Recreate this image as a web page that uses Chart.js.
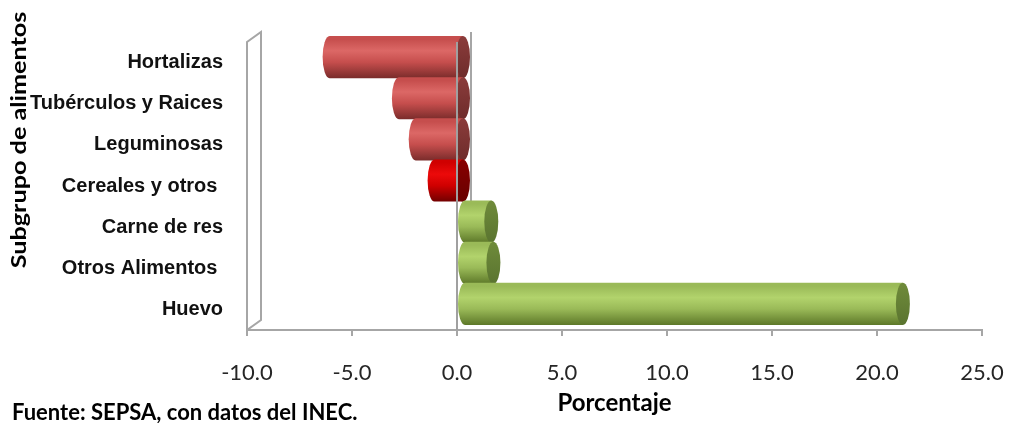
<!DOCTYPE html>
<html>
<head>
<meta charset="utf-8">
<style>
  html, body { margin: 0; padding: 0; background: #ffffff; }
  #wrap { width: 1009px; height: 423px; }
</style>
<script src="https://cdn.jsdelivr.net/npm/chart.js@4.4.1/dist/chart.umd.min.js"></script>
</head>
<body>
<div id="wrap"><canvas id="chart" width="1009" height="423"></canvas></div>
<script>
// Variación porcentual por subgrupo de alimentos
const categories = [
  'Hortalizas',
  'Tubérculos y Raices',
  'Leguminosas',
  'Cereales y otros ',
  'Carne de res',
  'Otros Alimentos ',
  'Huevo'
];
const variation = [-6.4, -3.1, -2.3, -1.4, 1.3, 1.4, 20.9];
const xTicks = [-10, -5, 0, 5, 10, 15, 20, 25];
const highlighted = ['Cereales y otros '];

const xAxisTitle = 'Porcentaje';
const yAxisTitle = 'Subgrupo de alimentos';
const sourceNote = 'Fuente: SEPSA, con datos del INEC.';

// 3D depth of the plot box (pixels)
const DX = 14, DY = 10;

const PALETTES = {
  down:   { light: '#dc6866', mid: '#c64e4d', dark: '#7a2c2b', face: '#8b3c3b', faceDark: '#6e2c2b' },
  accent: { light: '#ec0a0a', mid: '#d00000', dark: '#720000', face: '#880000', faceDark: '#680000' },
  up:     { light: '#b2d36c', mid: '#9aba58', dark: '#5d7829', face: '#6f8b3a', faceDark: '#5a7430' }
};

function paletteFor(i) {
  if (highlighted.includes(categories[i])) return PALETTES.accent;
  return variation[i] < 0 ? PALETTES.down : PALETTES.up;
}

function drawCylinder(ctx, xa, xb, yc, h, col) {
  const rx = DX / 2, ry = h / 2, top = yc - ry, bot = yc + ry;
  const g = ctx.createLinearGradient(0, top, 0, bot);
  g.addColorStop(0, col.mid);
  g.addColorStop(0.08, col.mid);
  g.addColorStop(0.35, col.light);
  g.addColorStop(0.62, col.mid);
  g.addColorStop(1, col.dark);
  ctx.beginPath();
  ctx.moveTo(xb, top);
  ctx.lineTo(xa, top);
  ctx.ellipse(xa, yc, rx, ry, 0, -Math.PI / 2, Math.PI / 2, true);
  ctx.lineTo(xb, bot);
  ctx.closePath();
  ctx.fillStyle = g;
  ctx.fill();

  const fg = ctx.createLinearGradient(0, top, 0, bot);
  fg.addColorStop(0, col.face);
  fg.addColorStop(1, col.faceDark);
  ctx.beginPath();
  ctx.ellipse(xb, yc, rx, ry, 0, 0, Math.PI * 2);
  ctx.fillStyle = fg;
  ctx.fill();
}

// Plot box walls, cylinder bars and the zero plane
const cylinderBars = {
  id: 'cylinderBars',
  beforeDatasetsDraw(chart) {
    const { ctx, chartArea: a, scales: { x } } = chart;
    const xMin = x.getPixelForValue(x.min);
    const x0 = x.getPixelForValue(0);
    ctx.save();
    ctx.strokeStyle = '#a6a6a6';
    ctx.lineWidth = 2;
    // left side wall
    ctx.beginPath();
    ctx.moveTo(xMin, a.bottom);
    ctx.lineTo(xMin, a.top);
    ctx.lineTo(xMin + DX, a.top - DY);
    ctx.lineTo(xMin + DX, a.bottom - DY);
    ctx.closePath();
    ctx.stroke();
    // back edge of the zero plane
    ctx.beginPath();
    ctx.moveTo(x0 + DX, a.top - DY);
    ctx.lineTo(x0 + DX, a.bottom - DY);
    ctx.stroke();

    const meta = chart.getDatasetMeta(0);
    meta.data.forEach((bar, i) => {
      const p = bar.getProps(['x', 'y', 'base', 'height'], true);
      const xa = Math.min(p.x, p.base) + DX / 2;
      const xb = Math.max(p.x, p.base) + DX / 2;
      const yc = p.y - DY / 2 - 0.5;
      drawCylinder(ctx, xa, xb, yc, p.height + 1, paletteFor(i));
    });

    // front edge of the zero plane
    ctx.strokeStyle = '#a0a0a0';
    ctx.lineWidth = 2;
    ctx.beginPath();
    ctx.moveTo(x0, a.top);
    ctx.lineTo(x0, a.bottom);
    ctx.stroke();
    ctx.restore();
    return false;
  },
  afterDraw(chart) {
    const { ctx } = chart;
    ctx.save();
    // vertical axis title
    ctx.translate(19, 140);
    ctx.rotate(-Math.PI / 2);
    ctx.scale(1.2, 1);
    ctx.font = 'bold 21px Lato';
    ctx.fillStyle = '#000000';
    ctx.textAlign = 'center';
    ctx.textBaseline = 'middle';
    ctx.fillText(yAxisTitle, 0, 0);
    ctx.restore();

    ctx.save();
    ctx.font = 'bold 22px Lato';
    ctx.fillStyle = '#000000';
    ctx.textAlign = 'left';
    ctx.textBaseline = 'alphabetic';
    ctx.fillText(sourceNote, 12, 420);
    ctx.restore();
  }
};

new Chart(document.getElementById('chart'), {
  type: 'bar',
  data: {
    labels: categories,
    datasets: [{
      data: variation,
      backgroundColor: variation.map((v, i) => paletteFor(i).mid),
      barPercentage: 1,
      categoryPercentage: 1
    }]
  },
  options: {
    indexAxis: 'y',
    responsive: false,
    animation: false,
    layout: { padding: { top: 42, right: 27, bottom: 0, left: 0 } },
    plugins: {
      legend: { display: false },
      tooltip: { enabled: false }
    },
    scales: {
      x: {
        type: 'linear',
        min: xTicks[0],
        max: xTicks[xTicks.length - 1],
        afterBuildTicks: s => { s.ticks = xTicks.map(v => ({ value: v })); },
        ticks: {
          callback: v => Number(v).toFixed(1),
          font: { family: 'Lato', size: 22 },
          color: '#262626',
          padding: 24,
          maxRotation: 0,
          autoSkip: false
        },
        grid: { drawOnChartArea: false, drawTicks: true, tickLength: 6, color: '#a6a6a6', lineWidth: 2 },
        border: { display: true, color: '#a6a6a6', width: 2 },
        title: {
          display: true,
          text: xAxisTitle,
          font: { family: 'Lato', size: 24, weight: 'bold' },
          color: '#000000',
          padding: { top: 0, bottom: 5 }
        },
        afterFit: s => {
          s.height = 93;
          s.paddingLeft = 0;
          s.paddingRight = 0;
        }
      },
      y: {
        ticks: {
          font: { family: 'Liberation Sans', size: 20, weight: 'bold' },
          color: '#111111',
          padding: 24
        },
        grid: { display: false, drawTicks: false },
        border: { display: false },
        afterFit: s => { s.width = 247; }
      }
    }
  },
  plugins: [cylinderBars]
});
</script>
</body>
</html>
